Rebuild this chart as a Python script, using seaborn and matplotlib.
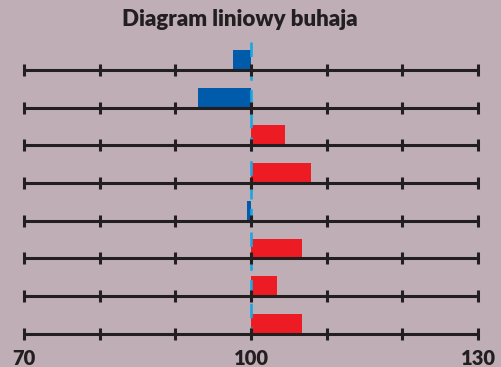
import numpy as np
import pandas as pd
import matplotlib
matplotlib.use("Agg")
import matplotlib.pyplot as plt
import seaborn as sns

# Linear profile of a bull: trait scores around the breed average of 100
traits = ["1", "2", "3", "4", "5", "6", "7", "8"]
scores = [97.6, 93.0, 104.5, 107.9, 99.5, 106.7, 103.4, 106.7]
baseline = 100
scale_ticks = [70, 80, 90, 100, 110, 120, 130]
scale_labels = ["70", "100", "130"]
title = "Diagram liniowy buhaja"

bg = "#BFAEB6"
ink = "#231F20"
blue = "#005BAA"
red = "#ED1C24"
cyan = "#1BA6E3"

sns.set_theme(style="white")
plt.rcParams["font.family"] = ["Lato", "DejaVu Sans"]

df = pd.DataFrame({
    "trait": traits,
    "dev": np.array(scores) - baseline,
})
df["side"] = np.where(df["dev"] < 0, "below", "above")

fig = plt.figure(figsize=(5.01, 3.67), dpi=100, facecolor=bg)
ax = fig.add_axes([0, 0, 1, 1])
ax.set_facecolor(bg)

bar_h = 0.53
sns.barplot(data=df, x="dev", y="trait", hue="side", orient="h",
            palette={"below": blue, "above": red}, dodge=False,
            width=bar_h, legend=False, linewidth=0, saturation=1,
            ax=ax, zorder=2)

px_per_unit = (478 - 24) / 60.0
lo = scale_ticks[0] - baseline
hi = scale_ticks[-1] - baseline
ax.set_xlim(lo - 24 / px_per_unit, lo + (501 - 24) / px_per_unit)
row_px = 37.7
ax.set_ylim((367 - 60) / row_px, -60 / row_px)

# scale line under each bar, with tick marks every 10 points
tick_dev = np.array(scale_ticks) - baseline
for i in range(len(traits)):
    yl = i + bar_h / 2
    ax.hlines(yl, lo, hi, color=ink, lw=2.2, zorder=4)
    ax.plot(tick_dev, [yl] * len(tick_dev), ls="none", marker="|",
            ms=8, mew=2.2, color=ink, zorder=4)

# dashed reference at the average
ax.vlines(0, -18 / row_px, 280 / row_px, colors=cyan, lw=1.9,
          linestyles=(0, (5.5, 3.5)), zorder=3)

for lab in scale_labels:
    ax.text(int(lab) - baseline, (358 - 60) / row_px, lab, ha="center",
            va="center", fontsize=14.5, fontweight="heavy", color=ink)

ax.text((240 - 24) / px_per_unit + lo, (19 - 60) / row_px, title,
        ha="center", va="center", fontsize=16, fontweight="heavy", color=ink)

ax.set_xlabel("")
ax.set_ylabel("")
ax.set_xticks([])
ax.set_yticks([])
for s in ax.spines.values():
    s.set_visible(False)

fig.savefig("out.png", dpi=100, facecolor=bg)
